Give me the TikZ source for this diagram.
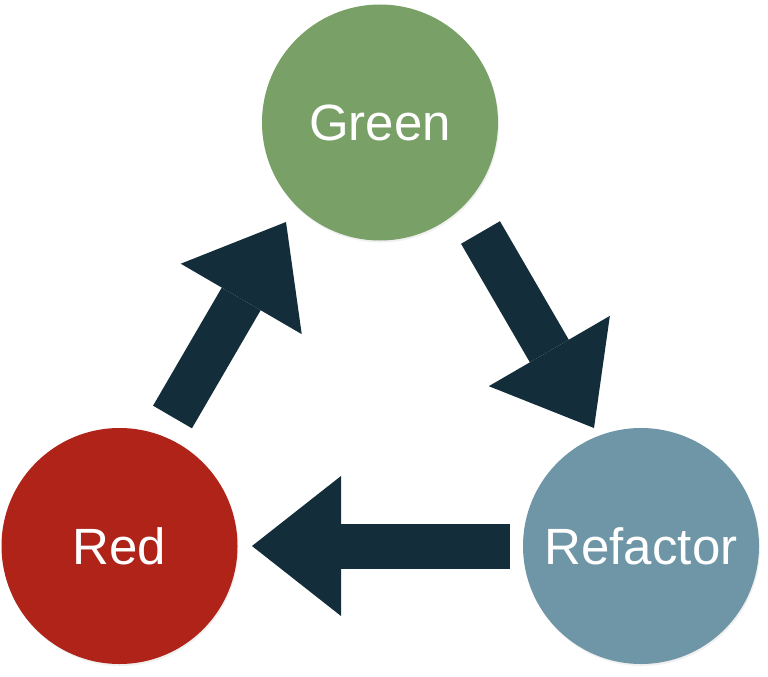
\documentclass[tikz,border=0pt]{standalone}
\usepackage{fontspec}
\setmainfont{Liberation Sans}
\usetikzlibrary{arrows.meta,shadows}

\definecolor{greenfill}{RGB}{121,160,102}
\definecolor{redfill}{RGB}{175,35,25}
\definecolor{refactorfill}{RGB}{111,150,167}
\definecolor{arrowfill}{RGB}{19,46,58}

\tikzset{
  phase/.style={circle, minimum size=236pt, inner sep=0pt, text=white,
    font=\fontsize{51pt}{60pt}\selectfont,
    drop shadow={opacity=0.12, shadow xshift=1pt, shadow yshift=-2pt}},
  flow/.style={draw=arrowfill, line width=45pt,
    -{Triangle[length=89pt, width=140pt, line width=0pt, fill=arrowfill]}}
}

\begin{document}
\begin{tikzpicture}[x=1pt, y=-1pt]
  \useasboundingbox (0,0) rectangle (768,677);

  % the three phases
  \node[phase, fill=greenfill] (green) at (380,122.5) {Green};
  \node[phase, fill=redfill] (red) at (119.5,546) {Red};
  \node[phase, fill=refactorfill] (refactor) at (641,546) {Refactor};

  % arrow ends
  \coordinate (r2g tail) at ([shift={(53,-129)}]red.center);
  \coordinate (r2g tip) at ([shift={(-94,99.5)}]green.center);
  \coordinate (g2f tail) at ([shift={(100.5,110)}]green.center);
  \coordinate (g2f tip) at ([shift={(-47,-118)}]refactor.center);
  \coordinate (f2r tail) at ([shift={(-131,0)}]refactor.center);
  \coordinate (f2r tip) at ([shift={(132.5,0)}]red.center);

  % the cycle
  \draw[flow] (r2g tail) -- (r2g tip);
  \draw[flow] (g2f tail) -- (g2f tip);
  \draw[flow] (f2r tail) -- (f2r tip);
\end{tikzpicture}
\end{document}
